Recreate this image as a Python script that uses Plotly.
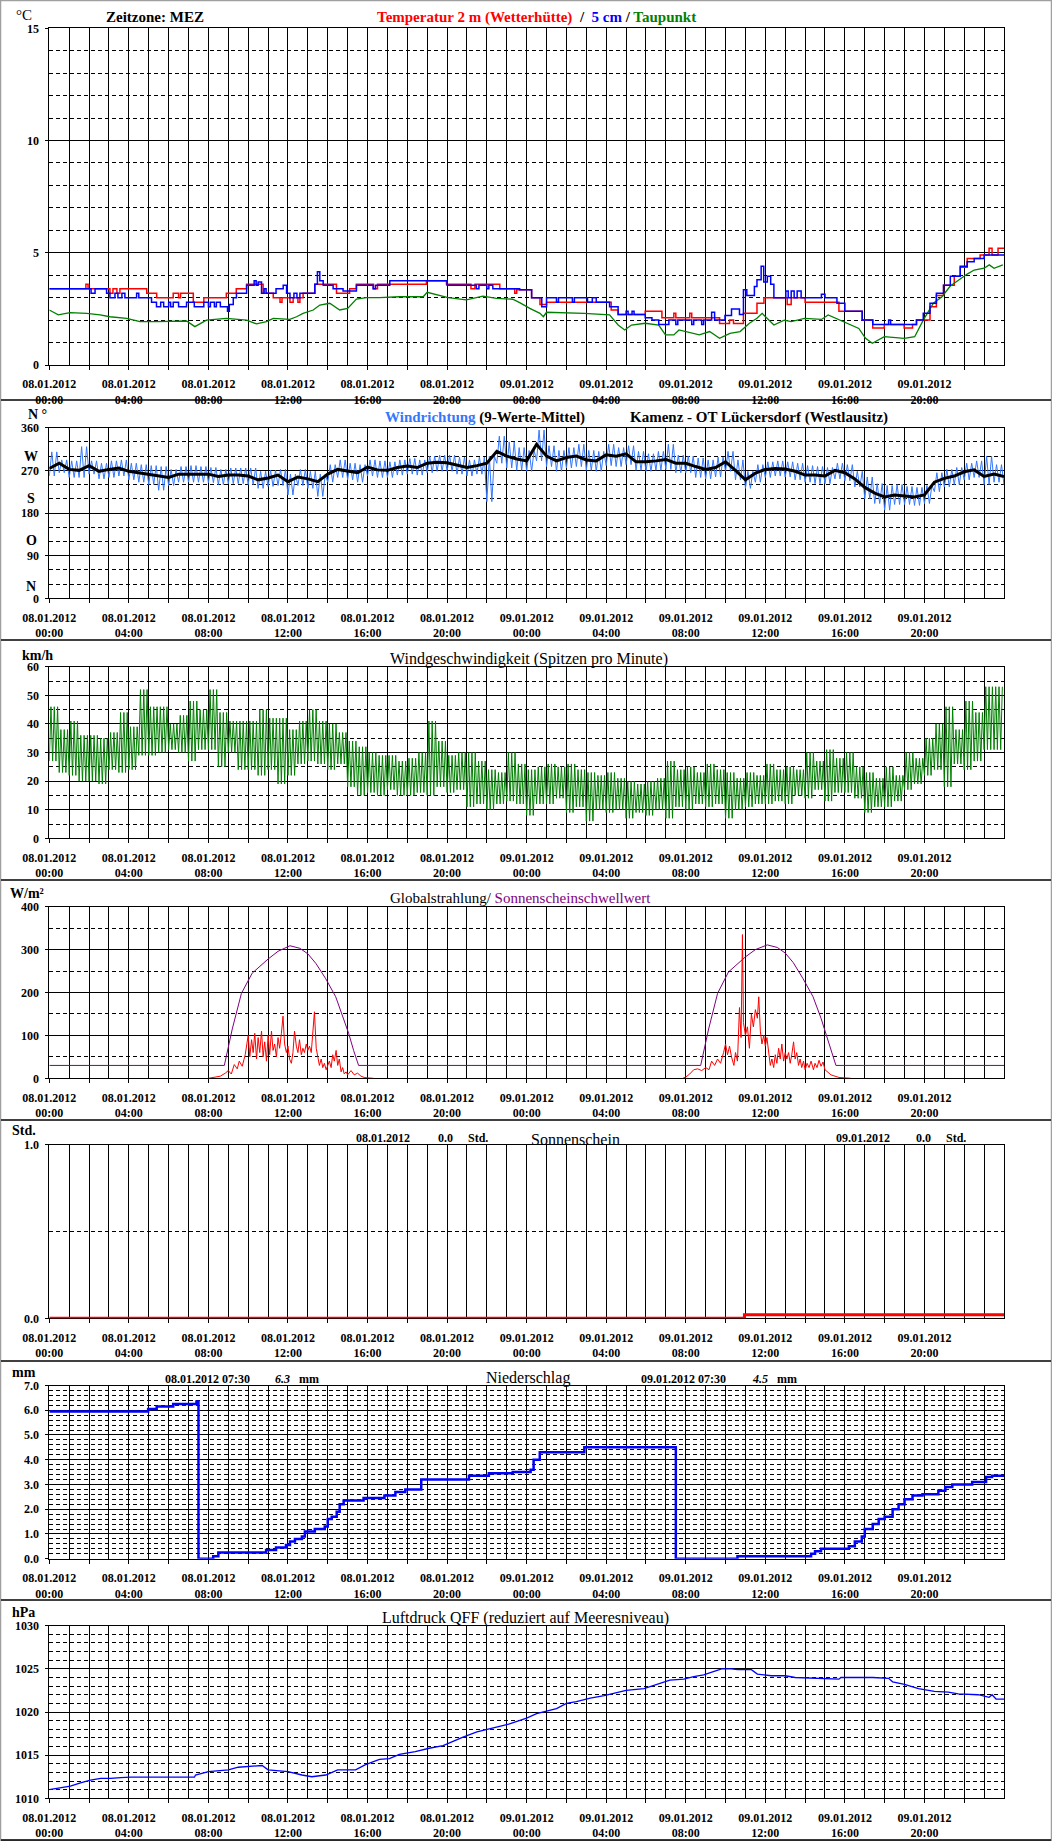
import plotly.graph_objects as go

# ------------------------------------------------------------------ data
# x values are hours since 08.01.2012 00:00
TICK_HOURS = [0, 4, 8, 12, 16, 20, 24, 28, 32, 36, 40, 44]
TICK_LABELS = ["08.01.2012<br>00:00", "08.01.2012<br>04:00", "08.01.2012<br>08:00",
               "08.01.2012<br>12:00", "08.01.2012<br>16:00", "08.01.2012<br>20:00",
               "09.01.2012<br>00:00", "09.01.2012<br>04:00", "09.01.2012<br>08:00",
               "09.01.2012<br>12:00", "09.01.2012<br>16:00", "09.01.2012<br>20:00"]
UNLABELLED_TICK_HOURS = [2, 6, 10, 14, 18, 22, 26, 30, 34, 38, 42, 46]

# Temperature 2 m (step series: hour, degC)
TEMP_2M = [(0, 3.4), (1.84, 3.6), (1.95, 3.4), (3.05, 3.2), (3.2, 3.4), (3.4, 3.2), (3.55, 3.4),
           (4.9, 3.2), (5.4, 3.0), (6.23, 3.2), (6.5, 3.0), (6.6, 3.2), (7.24, 2.8), (7.77, 3.0),
           (8.9, 3.2), (9.4, 3.4), (9.92, 3.6), (10.75, 3.2), (11.26, 3.0), (11.6, 2.8), (11.7, 3.0),
           (12.1, 2.8), (12.26, 3.0), (12.5, 2.8), (12.6, 3.0), (12.76, 3.2), (13.35, 3.6),
           (14.44, 3.2), (15.1, 3.4), (15.44, 3.6), (16.3, 3.4), (16.5, 3.6), (18.96, 3.75),
           (19.97, 3.6), (21.2, 3.4), (21.4, 3.6), (22.65, 3.4), (23.4, 3.2), (23.5, 3.35),
           (24.25, 3.0), (24.67, 2.7), (25.0, 2.8), (28.25, 2.45), (28.6, 2.25), (29.96, 2.4),
           (30.8, 2.1), (31.4, 2.3), (31.5, 2.1), (32.2, 2.3), (32.3, 2.1), (33.7, 1.85),
           (34.2, 2.0), (34.4, 1.85), (34.9, 2.3), (35.58, 2.75), (35.93, 3.0), (37.1, 2.7),
           (37.3, 3.0), (38.0, 2.8), (39.7, 2.4), (40.87, 2.0), (41.4, 1.65), (41.98, 1.8),
           (42.98, 1.65), (43.4, 1.8), (43.6, 2.0), (44.28, 2.6), (44.6, 3.1), (44.96, 3.55),
           (45.5, 3.95), (45.8, 4.35), (46.15, 4.75), (46.8, 4.9), (47.25, 5.2), (47.4, 4.9),
           (47.7, 5.2), (48, 5.2)]

# Temperature 5 cm (step series)
TEMP_5CM = [(0, 3.4), (2.1, 3.2), (2.3, 3.4), (2.88, 3.2), (3.05, 3.0), (3.3, 3.2), (3.45, 3.0),
            (3.65, 3.2), (3.8, 3.0), (4.39, 3.2), (4.5, 3.0), (5.14, 2.8), (5.39, 2.6), (5.6, 2.8),
            (5.75, 2.6), (6.0, 2.8), (6.1, 2.6), (6.23, 2.8), (6.5, 2.6), (6.9, 2.8), (7.29, 2.6),
            (7.77, 2.8), (8.0, 2.6), (8.1, 2.8), (8.3, 2.6), (8.4, 2.8), (8.6, 2.6), (8.96, 2.4),
            (9.05, 2.7), (9.25, 3.0), (9.41, 3.2), (9.92, 3.55), (10.3, 3.75), (10.4, 3.55),
            (10.5, 3.7), (10.67, 3.2), (10.8, 3.4), (10.9, 3.2), (11.4, 3.4), (11.76, 3.55),
            (11.93, 3.2), (12.1, 3.0), (12.3, 3.2), (12.45, 3.0), (12.6, 3.2), (13.35, 3.6),
            (13.48, 4.15), (13.6, 3.75), (13.77, 3.55), (14.27, 3.4), (14.77, 3.3), (15.44, 3.55),
            (16.28, 3.4), (16.4, 3.55), (17.12, 3.75), (20.0, 3.55), (21.47, 3.4), (21.6, 3.55),
            (22.0, 3.4), (22.1, 3.55), (22.3, 3.4), (23.65, 3.35),
            (24.25, 3.0), (24.76, 2.6), (25.0, 3.0), (25.5, 2.8), (25.6, 3.0), (26.3, 2.8),
            (26.4, 3.0), (27.06, 2.8), (27.3, 3.0), (27.5, 2.8), (28.17, 2.6), (28.6, 2.25),
            (29.0, 2.4), (29.1, 2.25), (29.3, 2.4), (29.4, 2.25), (29.96, 2.1), (30.3, 2.0),
            (30.64, 1.8), (31.15, 2.0), (31.5, 1.8), (31.6, 2.0), (32.3, 1.8), (32.4, 2.0),
            (32.8, 1.8), (32.9, 2.0), (33.3, 2.35), (33.45, 2.0), (33.97, 2.2), (34.3, 2.5),
            (34.7, 2.25), (34.9, 3.35), (35.07, 3.1), (35.45, 3.5), (35.58, 3.8), (35.79, 4.4),
            (35.92, 3.7), (36.1, 3.95), (36.27, 3.6), (36.43, 3.0), (37.03, 3.3), (37.15, 3.0),
            (37.3, 3.3), (37.45, 3.0), (37.6, 3.3), (37.8, 3.0), (38.82, 3.15), (39.0, 3.0),
            (39.6, 2.75), (40.0, 2.4), (40.87, 2.0), (41.4, 1.8), (42.2, 2.0), (42.3, 1.8),
            (43.6, 2.0), (43.94, 2.3), (44.28, 2.75), (44.6, 3.2), (44.96, 3.55), (45.3, 3.95),
            (45.8, 4.4), (46.15, 4.6), (46.5, 4.75), (47.0, 4.9), (48, 4.9)]

# Dew point
DEW_POINT = [(0, 2.45), (0.45, 2.23), (1.04, 2.33), (1.88, 2.30), (2.55, 2.23), (3.05, 2.15),
             (3.89, 2.08), (4.56, 1.93), (5.39, 1.93), (6.23, 1.96), (6.9, 1.96), (7.32, 1.71),
             (7.9, 2.0), (8.9, 2.08), (9.92, 2.0), (10.42, 1.83), (10.92, 1.93), (11.26, 2.08),
             (12.09, 2.03), (12.43, 2.15), (12.76, 2.30), (13.27, 2.45), (13.6, 2.67), (14.1, 2.75),
             (14.6, 2.45), (15.0, 2.52), (15.44, 2.94), (15.95, 3.0), (16.6, 3.0), (17.6, 3.04),
             (18.8, 3.04), (19.0, 3.24), (19.6, 3.12), (20.05, 3.0), (20.97, 2.9), (21.3, 2.97),
             (21.8, 3.07), (22.48, 2.97), (23.3, 2.93), (23.65, 2.78), (24.16, 2.52), (24.67, 2.30),
             (24.84, 2.15), (25.0, 2.35), (26.89, 2.30), (28.17, 2.23), (28.6, 1.78), (28.93, 1.56),
             (29.27, 1.78), (29.96, 1.86), (30.64, 1.78), (30.98, 1.34), (31.4, 1.34), (31.66, 1.56),
             (32.68, 1.34), (33.2, 1.49), (33.7, 1.19), (34.22, 1.41), (34.73, 1.49), (35.2, 1.86),
             (35.58, 2.08), (35.84, 2.30), (36.43, 1.78), (36.95, 2.0), (37.3, 1.93), (37.97, 2.08),
             (38.82, 2.03), (39.16, 2.23), (39.76, 2.0), (40.19, 1.86), (40.7, 1.63), (41.04, 1.19),
             (41.38, 0.97), (41.98, 1.26), (42.99, 1.19), (43.51, 1.26), (43.94, 2.0), (44.45, 2.75),
             (44.88, 3.04), (45.3, 3.52), (45.82, 3.86), (46.15, 4.05), (46.5, 4.23), (47.0, 4.31),
             (47.26, 4.46), (47.5, 4.31), (47.94, 4.46)]

# Wind direction, half-hourly (h = 0, 0.5, ... 48), degrees
WIND_DIR_MEAN = [274, 285, 272, 270, 280, 268, 272, 275, 268, 265,
                 262, 258, 255, 262, 262, 262, 262, 257, 260, 260,
                 258, 250, 254, 260, 246, 256, 252, 246, 262, 272,
                 268, 265, 277, 271, 270, 276, 279, 276, 285, 287,
                 286, 281, 276, 280, 285, 310, 300, 294, 290, 325,
                 300, 290, 297, 300, 292, 290, 303, 300, 305, 288,
                 288, 290, 293, 285, 285, 278, 272, 276, 288, 270,
                 250, 264, 272, 274, 273, 268, 260, 260, 258, 270,
                 265, 252, 234, 222, 214, 218, 216, 214, 218, 245,
                 253, 258, 267, 271, 257, 262, 257]
WIND_DIR_RAW_HIGH = [309, 292, 290, 320, 290, 285, 290, 292, 285, 282,
                     280, 278, 272, 278, 280, 278, 276, 272, 275, 275,
                     275, 268, 270, 272, 262, 272, 268, 262, 282, 292,
                     285, 282, 292, 290, 288, 292, 295, 292, 300, 302,
                     302, 298, 292, 298, 300, 342, 330, 318, 312, 355,
                     322, 312, 318, 325, 312, 310, 325, 318, 322, 310,
                     305, 310, 325, 302, 300, 296, 292, 298, 310, 292,
                     268, 282, 288, 290, 288, 285, 280, 278, 276, 285,
                     282, 268, 256, 242, 238, 240, 236, 234, 238, 265,
                     272, 276, 285, 290, 300, 282, 278]
WIND_DIR_RAW_LOW = [258, 265, 255, 255, 262, 252, 255, 258, 250, 245,
                    240, 228, 238, 245, 245, 245, 244, 240, 242, 242,
                    240, 232, 236, 238, 218, 238, 232, 215, 245, 255,
                    250, 245, 258, 255, 255, 260, 262, 260, 265, 268,
                    268, 262, 258, 262, 204, 285, 275, 270, 268, 290,
                    278, 268, 275, 278, 270, 268, 280, 278, 282, 270,
                    268, 270, 272, 265, 265, 255, 252, 256, 268, 250,
                    232, 245, 255, 258, 256, 250, 245, 242, 242, 252,
                    248, 235, 210, 200, 186, 198, 198, 196, 200, 225,
                    235, 240, 250, 255, 240, 245, 240]

# Wind speed gusts per half hour (low / high of minute peaks), km/h
WIND_SPEED_LOW = [27, 23, 22, 20, 20, 19, 24, 23, 24, 29,
                  29, 30, 31, 30, 27, 31, 31, 25, 30, 24,
                  24, 22, 24, 19, 22, 26, 27, 26, 24, 26,
                  18, 15, 16, 15, 17, 15, 15, 16, 15, 18,
                  16, 17, 11, 12, 10, 12, 13, 12, 8, 12,
                  12, 14, 9, 11, 6, 10, 9, 10, 7, 9,
                  8, 10, 7, 11, 10, 12, 11, 12, 7, 10,
                  11, 12, 12, 13, 12, 15, 14, 17, 13, 16,
                  16, 14, 9, 11, 11, 13, 17, 19, 22, 24,
                  18, 26, 24, 27, 31, 31]
WIND_SPEED_HIGH = [46, 38, 41, 36, 36, 35, 37, 44, 39, 52,
                   46, 46, 40, 43, 48, 45, 52, 44, 41, 41,
                   41, 45, 42, 42, 38, 41, 45, 41, 40, 37,
                   34, 32, 30, 29, 29, 27, 28, 30, 41, 34,
                   29, 30, 30, 27, 24, 23, 30, 26, 24, 25,
                   26, 25, 26, 24, 23, 22, 23, 21, 20, 19,
                   20, 21, 27, 24, 25, 23, 26, 24, 23, 21,
                   23, 22, 26, 24, 25, 24, 30, 27, 31, 28,
                   30, 25, 23, 21, 25, 22, 30, 28, 35, 40,
                   46, 38, 48, 44, 53, 53]

# Global radiation W/m2
RADIATION_DAY1 = [(8.0, 0), (8.3, 2), (8.6, 5), (8.85, 12), (9.0, 18), (9.15, 10), (9.3, 32),
                  (9.45, 22), (9.55, 40), (9.7, 28), (9.85, 55), (10.0, 100), (10.08, 50),
                  (10.17, 90), (10.25, 60), (10.33, 105), (10.42, 45), (10.5, 95), (10.58, 60),
                  (10.67, 110), (10.75, 50), (10.83, 85), (10.92, 40), (11.0, 100), (11.08, 55),
                  (11.17, 110), (11.25, 65), (11.33, 80), (11.42, 50), (11.5, 95), (11.58, 70),
                  (11.67, 105), (11.75, 145), (11.83, 80), (11.92, 60), (12.0, 75), (12.08, 45),
                  (12.17, 35), (12.25, 60), (12.33, 110), (12.42, 75), (12.5, 60), (12.58, 90),
                  (12.67, 55), (12.75, 70), (12.83, 60), (12.92, 80), (13.0, 65), (13.08, 75),
                  (13.17, 60), (13.25, 110), (13.33, 155), (13.42, 70), (13.5, 50), (13.58, 30),
                  (13.67, 45), (13.75, 25), (13.83, 35), (13.92, 20), (14.0, 30), (14.08, 40),
                  (14.17, 25), (14.25, 55), (14.33, 40), (14.42, 65), (14.5, 30), (14.58, 45),
                  (14.67, 15), (14.75, 25), (14.83, 10), (14.92, 15), (15.0, 8), (15.17, 18),
                  (15.33, 8), (15.5, 12), (15.67, 5), (15.83, 2), (16.0, 1), (16.3, 0)]
RADIATION_DAY2 = [(31.85, 0), (32.0, 3), (32.2, 10), (32.4, 20), (32.6, 22), (32.8, 18), (33.0, 25),
                  (33.17, 20), (33.3, 40), (33.45, 30), (33.6, 45), (33.75, 35), (33.9, 60),
                  (34.0, 80), (34.1, 55), (34.2, 75), (34.3, 50), (34.42, 30), (34.5, 60),
                  (34.6, 40), (34.7, 165), (34.78, 95), (34.85, 335), (34.9, 130), (35.0, 100),
                  (35.1, 120), (35.2, 70), (35.3, 150), (35.4, 120), (35.5, 160), (35.6, 140),
                  (35.67, 190), (35.75, 110), (35.83, 80), (35.92, 100), (36.0, 75), (36.08, 95),
                  (36.17, 55), (36.25, 30), (36.33, 45), (36.42, 25), (36.5, 55), (36.58, 35),
                  (36.67, 70), (36.75, 45), (36.83, 80), (36.92, 40), (37.0, 60), (37.08, 45),
                  (37.17, 60), (37.25, 35), (37.33, 55), (37.42, 85), (37.5, 45), (37.58, 60),
                  (37.67, 30), (37.75, 45), (37.83, 25), (37.92, 40), (38.0, 20), (38.1, 35),
                  (38.2, 25), (38.3, 40), (38.42, 20), (38.5, 35), (38.6, 25), (38.7, 42),
                  (38.8, 28), (38.9, 38), (39.0, 20), (39.15, 15), (39.3, 8), (39.5, 5),
                  (39.7, 2), (40.0, 1), (40.3, 0)]
SUNSHINE_THRESHOLD = [(0, 30), (8.8, 30), (9.2, 115), (9.66, 198), (10.2, 245), (11.0, 278),
                      (11.5, 296), (12.1, 309), (12.6, 303), (13.0, 290), (13.4, 268), (13.9, 232),
                      (14.4, 190), (14.8, 140), (15.05, 105), (15.3, 65), (15.55, 30), (32.75, 30),
                      (33.15, 115), (33.6, 198), (34.15, 248), (35.0, 283), (35.5, 300), (36.1, 311),
                      (36.6, 305), (37.0, 292), (37.4, 270), (37.9, 232), (38.4, 190), (38.8, 140),
                      (39.05, 105), (39.3, 65), (39.55, 30), (48, 30)]

# Sunshine duration (h)
SUNSHINE = [(0, 0.0), (34.95, 0.02), (48, 0.02)]

# Precipitation (mm, step series)
PRECIPITATION = [(0, 5.95), (4.97, 6.05), (5.4, 6.15), (6.23, 6.25), (7.4, 6.35), (7.5, 0.0),
                 (8.24, 0.1), (8.5, 0.25), (10.9, 0.35), (11.4, 0.45), (11.9, 0.55), (12.1, 0.7),
                 (12.35, 0.8), (12.7, 0.9), (12.85, 1.1), (13.35, 1.2), (13.85, 1.3), (14.0, 1.6),
                 (14.2, 1.7), (14.45, 1.9), (14.6, 2.2), (14.8, 2.35), (15.8, 2.45), (16.85, 2.55),
                 (17.4, 2.7), (17.9, 2.8), (18.7, 3.2), (21.1, 3.35), (22.1, 3.45), (23.3, 3.5),
                 (24.2, 3.6), (24.35, 4.0), (24.66, 4.3), (26.9, 4.5), (31.5, 0.0), (34.6, 0.1),
                 (38.3, 0.2), (38.5, 0.3), (38.8, 0.4), (40.2, 0.5), (40.5, 0.7), (40.85, 0.9),
                 (41.0, 1.2), (41.4, 1.4), (41.7, 1.6), (42.0, 1.7), (42.4, 2.0), (42.7, 2.2),
                 (43.0, 2.4), (43.4, 2.55), (43.9, 2.6), (44.7, 2.75), (45.05, 2.9), (45.4, 3.0),
                 (46.4, 3.1), (47.1, 3.3), (47.4, 3.35), (48, 3.35)]

# Pressure QFF (hPa)
PRESSURE = [(0, 1011.0), (0.55, 1011.2), (1.06, 1011.4), (1.57, 1011.8), (2.07, 1012.1),
            (2.58, 1012.3), (3.08, 1012.3), (3.59, 1012.4), (4.1, 1012.45), (7.3, 1012.45),
            (7.35, 1012.7), (8.0, 1013.1), (9.0, 1013.3), (9.5, 1013.6), (10.5, 1013.7),
            (10.7, 1013.8), (11.0, 1013.3), (12.0, 1013.1), (12.7, 1012.7), (13.2, 1012.5),
            (13.9, 1012.7), (14.5, 1013.3), (15.4, 1013.3), (15.9, 1013.9), (16.6, 1014.5),
            (17.1, 1014.6), (17.6, 1015.1), (18.4, 1015.4), (19.1, 1015.8), (19.8, 1016.1),
            (20.3, 1016.6), (20.8, 1017.1), (21.5, 1017.7), (22.5, 1018.3), (23.1, 1018.6),
            (24.0, 1019.3), (24.5, 1019.8), (25.5, 1020.4), (26.0, 1021.0), (26.5, 1021.2),
            (27.2, 1021.6), (27.9, 1021.9), (28.5, 1022.2), (29.0, 1022.5), (29.9, 1022.7),
            (30.4, 1023.1), (31.2, 1023.7), (31.9, 1023.8), (32.4, 1024.1), (32.9, 1024.3),
            (33.3, 1024.6), (33.8, 1025.0), (34.3, 1025.0), (34.6, 1024.9), (35.3, 1024.9),
            (35.6, 1024.4), (36.3, 1024.2), (37.0, 1024.2), (37.5, 1024.0), (38.7, 1023.9),
            (39.7, 1023.8), (39.8, 1024.0), (41.4, 1024.0), (42.2, 1023.9), (42.4, 1023.5),
            (43.0, 1023.2), (43.7, 1022.7), (44.5, 1022.4), (45.2, 1022.3), (45.7, 1022.1),
            (46.7, 1022.0), (47.25, 1021.7), (47.4, 1022.0), (47.6, 1021.5), (48, 1021.5)]

# ------------------------------------------------------------------ layout helpers
W, H = 1052, 1841
PX_LEFT, PX_RIGHT = 49.3, 1004.0
FONT = "Liberation Serif"


def fx(px):
    return px / W


def fy(py):
    return 1 - py / H


def xy(pairs):
    return [p[0] for p in pairs], [p[1] for p in pairs]


def zigzag(lo, hi, step=0.5, reps=2):
    """Alternate the read low / high extents inside each interval."""
    xs, ys = [], []
    sub = step / (2 * reps)
    for i, (a, b) in enumerate(zip(lo, hi)):
        t = i * step
        for r in range(reps):
            xs += [t + (2 * r) * sub, t + (2 * r + 1) * sub]
            ys += [a, b]
    return xs, ys


PANELS = [
    dict(top=28.3, bottom=365.0, rng=[0, 15], major=[0, 5, 10, 15], text=None, minor=1),
    dict(top=427.7, bottom=598.3, rng=[0, 360], major=[0, 90, 180, 270, 360], text=None, minor=30),
    dict(top=666.7, bottom=838.3, rng=[0, 60], major=[0, 10, 20, 30, 40, 50, 60], text=None, minor=5),
    dict(top=906.7, bottom=1078.3, rng=[0, 400], major=[0, 100, 200, 300, 400], text=None, minor=50),
    dict(top=1144.5, bottom=1318.3, rng=[0, 1], major=[0, 1], text=["0.0", "1.0"], minor=0.5),
    dict(top=1385.5, bottom=1558.7, rng=[0, 7], major=[0, 1, 2, 3, 4, 5, 6, 7],
         text=["0.0", "1.0", "2.0", "3.0", "4.0", "5.0", "6.0", "7.0"], minor=0.2),
    dict(top=1625.7, bottom=1798.3, rng=[1010, 1030], major=[1010, 1015, 1020, 1025, 1030],
         text=None, minor=1),
]

xtickvals = sorted(TICK_HOURS + UNLABELLED_TICK_HOURS)
label_map = dict(zip(TICK_HOURS, TICK_LABELS))
xticktext = [label_map.get(v, "") for v in xtickvals]
tickfont = dict(family=FONT, size=12, color="black", weight="bold")

layout = dict(width=W, height=H, margin=dict(l=0, r=0, t=0, b=0, pad=0, autoexpand=False),
              paper_bgcolor="white", plot_bgcolor="white", showlegend=False)

for k, p in enumerate(PANELS, start=1):
    sx = "" if k == 1 else str(k)
    layout["xaxis" + sx] = dict(
        domain=[fx(PX_LEFT), fx(PX_RIGHT)], range=[0, 48], anchor="y" + sx,
        tickmode="array", tickvals=xtickvals, ticktext=xticktext,
        ticks="outside", ticklen=4, tickcolor="black", tickwidth=1,
        tickfont=tickfont, showgrid=True, gridcolor="black", gridwidth=1,
        minor=dict(tickmode="linear", tick0=0, dtick=1, showgrid=True,
                   gridcolor="black", gridwidth=1, ticks=""),
        showline=True, mirror=True, linecolor="black", linewidth=1, automargin=False,
        zeroline=False, fixedrange=True, layer="below traces", ticklabelstandoff=4)
    ya = dict(
        domain=[fy(p["bottom"]), fy(p["top"])], range=p["rng"], anchor="x" + sx,
        tickmode="array", tickvals=p["major"],
        ticks="outside", ticklen=3, tickcolor="black", tickwidth=1,
        tickfont=tickfont, showgrid=True, gridcolor="black", gridwidth=1,
        minor=dict(tickmode="linear", tick0=p["rng"][0], dtick=p["minor"], showgrid=True,
                   gridcolor="black", gridwidth=1, griddash="4px,3px", ticks=""),
        showline=True, mirror=True, linecolor="black", linewidth=1, automargin=False,
        zeroline=False, fixedrange=True, layer="below traces", ticklabelstandoff=4)
    if p["text"]:
        ya["ticktext"] = p["text"]
    layout["yaxis" + sx] = ya

fig = go.Figure()


def add(k, x, y, color, width, shape="linear"):
    sx = "" if k == 1 else str(k)
    fig.add_trace(go.Scatter(x=x, y=y, mode="lines", xaxis="x" + sx, yaxis="y" + sx,
                             line=dict(color=color, width=width, shape=shape),
                             hoverinfo="skip"))


# Panel 1: temperatures
x, y = xy(TEMP_2M)
add(1, x, y, "#FF0000", 1.5, "hv")
x, y = xy(DEW_POINT)
add(1, x, y, "#008000", 1.3)
x, y = xy(TEMP_5CM)
add(1, x, y, "#0000FF", 1.5, "hv")

# Panel 2: wind direction
half_hours = [i * 0.5 for i in range(len(WIND_DIR_MEAN))]
x, y = zigzag(WIND_DIR_RAW_LOW, WIND_DIR_RAW_HIGH, reps=2)
add(2, x, y, "#3377FF", 1)
add(2, half_hours, WIND_DIR_MEAN, "#000000", 3)

# Panel 3: wind speed
x, y = zigzag(WIND_SPEED_LOW, WIND_SPEED_HIGH, reps=3)
add(3, x, y, "#008000", 1)

# Panel 4: radiation and threshold
x, y = xy(SUNSHINE_THRESHOLD)
add(4, x, y, "#800080", 1)
x1, y1 = xy(RADIATION_DAY1)
x2, y2 = xy(RADIATION_DAY2)
add(4, x1 + [None] + x2, y1 + [None] + y2, "#FF0000", 1)

# Panel 5: sunshine
x, y = xy(SUNSHINE)
add(5, x, y, "#FF0000", 3, "hv")

# Panel 6: precipitation
x, y = xy(PRECIPITATION)
add(6, x, y, "#0000FF", 2.5, "hv")

# Panel 7: pressure
x, y = xy(PRESSURE)
add(7, x, y, "#0000FF", 1.3)

# ------------------------------------------------------------------ texts
ANN = [
    # text, x px, y px, size, bold, color, xanchor
    ("°C", 14, 15, 15, False, "black", "left"),
    ("Zeitzone: MEZ", 104, 17, 15, True, "black", "left"),
    ('<span style="color:#FF0000">Temperatur 2 m (Wetterhütte)</span>&nbsp; / &nbsp;'
     '<span style="color:#0000FF">5 cm</span> / <span style="color:#008000">Taupunkt</span>',
     375, 17, 15, True, "black", "left"),
    ("N °", 26, 414, 14, True, "black", "left"),
    ('<span style="color:#3377FF">Windrichtung</span> (9-Werte-Mittel)', 383, 417, 15, True,
     "black", "left"),
    ("Kamenz - OT Lückersdorf (Westlausitz)", 628, 417, 15, True, "black", "left"),
    ("W", 31, 456, 14, True, "black", "center"),
    ("S", 31, 499, 14, True, "black", "center"),
    ("O", 31, 541, 14, True, "black", "center"),
    ("N", 31, 586, 14, True, "black", "center"),
    ("km/h", 20, 655, 14, True, "black", "left"),
    ("Windgeschwindigkeit (Spitzen pro Minute)", 388, 659, 16, False, "black", "left"),
    ("W/m²", 8, 893, 14, True, "black", "left"),
    ('Globalstrahlung/ <span style="color:#800080">Sonnenscheinschwellwert</span>', 388, 898, 15,
     False, "black", "left"),
    ("Std.", 10, 1130, 14, True, "black", "left"),
    ("08.01.2012", 354, 1138, 12, True, "black", "left"),
    ("0.0", 436, 1138, 12, True, "black", "left"),
    ("Std.", 466, 1138, 12, True, "black", "left"),
    ("Sonnenschein", 529, 1139, 16, False, "black", "left"),
    ("09.01.2012", 834, 1138, 12, True, "black", "left"),
    ("0.0", 914, 1138, 12, True, "black", "left"),
    ("Std.", 944, 1138, 12, True, "black", "left"),
    ("mm", 10, 1372, 14, True, "black", "left"),
    ("08.01.2012 07:30", 163, 1379, 12, True, "black", "left"),
    ("<i>6.3</i>&nbsp;&nbsp; mm", 273, 1379, 12, True, "black", "left"),
    ("Niederschlag", 484, 1378, 16, False, "black", "left"),
    ("09.01.2012 07:30", 639, 1379, 12, True, "black", "left"),
    ("<i>4.5</i>&nbsp;&nbsp; mm", 750, 1379, 12, True, "black", "left"),
    ("hPa", 10, 1612, 14, True, "black", "left"),
    ("Luftdruck QFF (reduziert auf Meeresniveau)", 380, 1618, 16, False, "black", "left"),
]
annotations = []
for text, px, py, size, bold, color, xa in ANN:
    annotations.append(dict(text=text, x=fx(px), y=fy(py), xref="paper", yref="paper",
                            xanchor=xa, yanchor="middle", showarrow=False,
                            font=dict(family=FONT, size=size, color=color,
                                      weight="bold" if bold else "normal")))
layout["annotations"] = annotations

shapes = [dict(type="rect", xref="paper", yref="paper", x0=fx(0.5), x1=fx(1051.5),
               y0=fy(1840.5), y1=fy(0.5), line=dict(color="#A0A0A0", width=1.5))]
for sep in [400, 640, 880, 1120, 1361, 1600, 1840]:
    shapes.append(dict(type="line", xref="paper", yref="paper", x0=fx(1), x1=fx(1051),
                       y0=fy(sep), y1=fy(sep), line=dict(color="black", width=1.5)))
layout["shapes"] = shapes

fig.update_layout(**layout)
fig.write_html("out.html", config={"displayModeBar": False},
               post_script="document.body.style.margin='0';document.body.style.overflow='hidden';")
